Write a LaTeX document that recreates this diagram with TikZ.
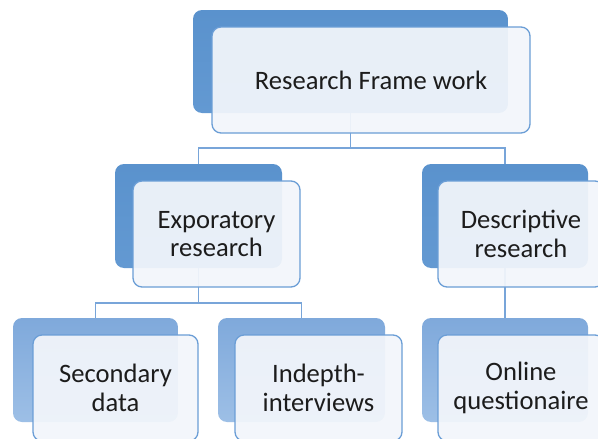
\documentclass[tikz,border=0pt]{standalone}
\usepackage{fontspec}
\setmainfont{Carlito}
\definecolor{backdark}{HTML}{5A92CD}
\definecolor{backdarklow}{HTML}{6399D2}
\definecolor{backlight}{HTML}{7FA9DB}
\definecolor{backlightlow}{HTML}{9DBFE6}
\definecolor{frontfill}{HTML}{F3F6FB}
\definecolor{frontline}{HTML}{6B9ED6}
\definecolor{connline}{HTML}{78A5D9}
\definecolor{labeltext}{HTML}{1C1C1C}
\begin{document}
\begin{tikzpicture}[x=1pt,y=-1pt,
  backbox/.style={rounded corners=9pt, draw=none, inner sep=0pt,
    top color=backdark, bottom color=backdarklow},
  backboxlight/.style={rounded corners=9pt, draw=none, inner sep=0pt,
    top color=backlight, bottom color=backlightlow},
  frontbox/.style={rounded corners=9pt, draw=frontline, line width=1.3pt,
    fill=frontfill, fill opacity=0.93, text opacity=1, text=labeltext,
    inner sep=0pt, align=center,
    font=\fontsize{26.6}{28.5}\selectfont},
  conn/.style={draw=connline, line width=1.7pt},
]
\useasboundingbox (0,0) rectangle (598,439);
\clip (0,0) rectangle (598,439);
\fill[white] (0,0) rectangle (598,439);

% back plates
\node[backbox, minimum width=315pt, minimum height=103pt] (rfB) at (350.5,61.5) {};
\node[backbox, minimum width=167pt, minimum height=104pt] (exB) at (198.5,216) {};
\node[backbox, minimum width=166pt, minimum height=104pt] (deB) at (505,216) {};
\node[backboxlight, minimum width=165pt, minimum height=104pt] (seB) at (95.5,370) {};
\node[backboxlight, minimum width=167pt, minimum height=104pt] (inB) at (301.5,370) {};
\node[backboxlight, minimum width=166pt, minimum height=104pt] (onB) at (505,370) {};

% connectors (behind the translucent front cards)
\coordinate (bus1) at (350.5,148);
\coordinate (bus2) at (198.5,303);
\draw[conn] (rfB.south) -- (bus1);
\draw[conn] (exB.north) |- (bus1) -| (deB.north);
\draw[conn] (exB.south) -- (bus2);
\draw[conn] (seB.north) |- (bus2) -| (inB.north);
\draw[conn] (deB.south) -- (onB.north);

% front cards with labels
\node[frontbox, minimum width=318pt, minimum height=106pt] (rf) at (371,80) {Research Frame work};
\node[frontbox, minimum width=167pt, minimum height=106pt] (ex) at (216.5,234) {Exporatory\\research};
\node[frontbox, minimum width=166pt, minimum height=106pt] (de) at (521,234) {Descriptive\\research};
\node[frontbox, minimum width=165pt, minimum height=106pt] (se) at (115.5,388) {Secondary\\data};
\node[frontbox, minimum width=167pt, minimum height=106pt] (in) at (318.5,388) {Indepth-\\interviews};
\node[frontbox, minimum width=166pt, minimum height=106pt] (on) at (521,388) {Online\\questionaire};
\end{tikzpicture}
\end{document}
